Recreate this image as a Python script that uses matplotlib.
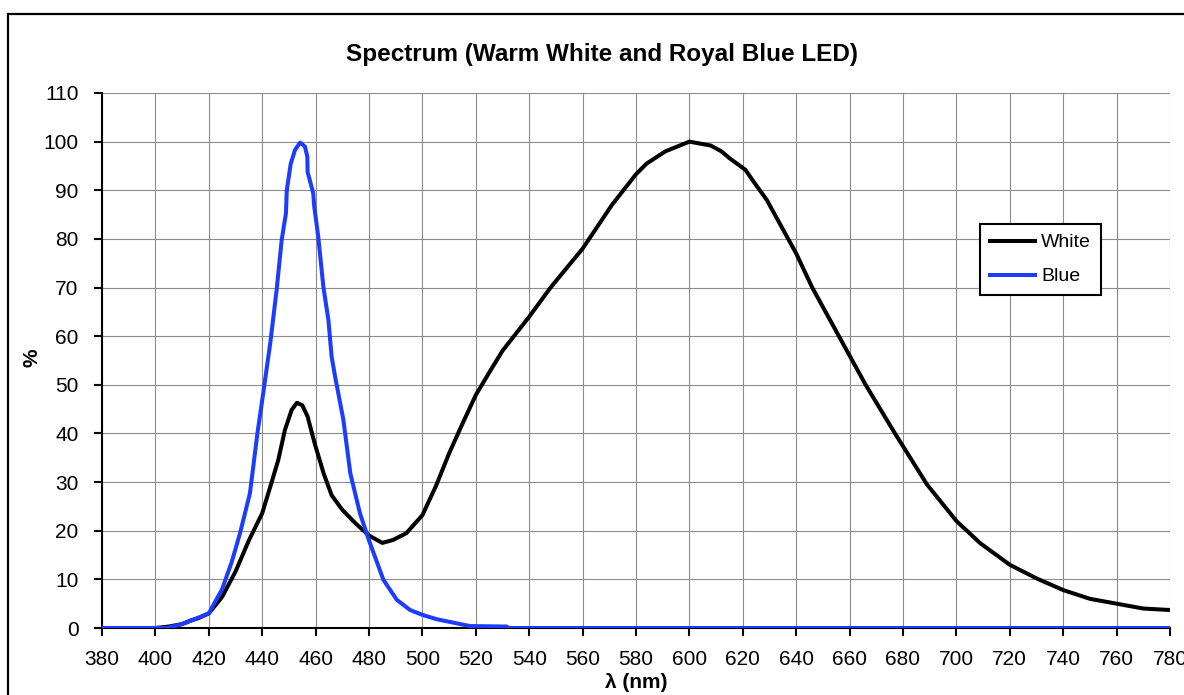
import matplotlib
matplotlib.use("Agg")
import matplotlib.pyplot as plt
from matplotlib.patches import Rectangle

plt.rcParams['font.family'] = ['Liberation Sans', 'DejaVu Sans']

# Warm white LED
wl_white = [380, 400, 405, 410, 413, 416, 420, 425, 430, 435, 440, 443, 446,
            448.5, 451, 453, 455, 457, 459, 460, 463, 466, 470, 475, 480, 485,
            489, 494, 500, 505, 510, 515, 520, 525, 530, 540, 548, 560, 571,
            580, 584, 591, 600, 604, 608, 612, 615, 621, 624, 629, 635, 640, 646, 656,
            666, 677, 689, 700, 709, 720, 730, 740, 750, 760, 770, 780]
white = [0, 0, 0.3, 0.8, 1.5, 2, 3, 6.4, 11.6, 18, 23.6, 29, 34.5,
         40.7, 44.8, 46.3, 45.8, 43.5, 39.3, 37.3, 31.8, 27.3, 24.3, 21.5, 19, 17.5,
         18.1, 19.5, 23.2, 29.1, 35.9, 42, 47.9, 52.5, 57, 64, 70, 78, 87,
         93.3, 95.5, 98, 100, 99.6, 99.2, 98, 96.6, 94.2, 91.8, 88, 82, 77, 70, 60,
         50, 40, 29.5, 22, 17.4, 13, 10.2, 7.8, 6, 5, 4, 3.7]

# Royal blue LED
wl_blue = [380, 404, 408, 412, 415.5, 420, 425, 428.6, 431.7, 435.4, 438.2, 440.2,
           443, 445.4, 447.3, 448.9, 449.2, 450.7, 452.3, 454.2, 456, 456.9, 457,
           459.1, 459.5, 461, 462.9, 464.8, 466, 467.3, 470.4, 473, 476.6, 480,
           485.4, 490.4, 495.4, 500, 505.4, 511.6, 517.8, 531.6, 532, 780]
blue = [0, 0, 0.5, 1.2, 2, 3, 8, 13.6, 19.5, 27.7, 40, 47.6,
        58.5, 69.5, 79.8, 85.3, 90, 95.5, 98.3, 99.8, 99, 96.9, 93.8,
        89.4, 86.6, 80.4, 70.2, 63.3, 55.8, 51.7, 42.8, 31.8, 23.6, 18,
        9.9, 5.8, 3.7, 2.7, 1.8, 1.1, 0.4, 0.3, 0, 0]

x_ticks = list(range(380, 781, 20))
y_ticks = list(range(0, 111, 10))

W, H = 1184, 695
fig = plt.figure(figsize=(W / 100, H / 100), dpi=100)
fig.patches.append(Rectangle((8 / W, -0.1), 2, 1.1 - 14 / H, transform=fig.transFigure,
                             fill=False, edgecolor='black', linewidth=1.6))

ax = fig.add_axes([102 / W, 67 / H, 1068 / W, 535 / H])
ax.plot(wl_white, white, color='black', lw=2.9, label='White', zorder=3)
ax.plot(wl_blue, blue, color='#1E3CFF', lw=2.9, label='Blue', zorder=4)

ax.set_xlim(380, 780)
ax.set_ylim(0, 110)
ax.set_xticks(x_ticks)
ax.set_yticks(y_ticks)
ax.grid(True, color='#8c8c8c', lw=0.8)
ax.set_axisbelow(True)
for s in ['top', 'right']:
    ax.spines[s].set_visible(False)
for s in ['left', 'bottom']:
    ax.spines[s].set_linewidth(1.5)
ax.tick_params(direction='out', length=6, width=1.5, labelsize=15)
ax.tick_params(axis='y', pad=11)
ax.tick_params(axis='x', pad=10)

ax.set_xlabel('λ (nm)', fontsize=15, fontweight='bold', va='center')
ax.xaxis.set_label_coords(0.5, (628 - 683) / 535)
ax.set_ylabel('%', fontsize=15, fontweight='bold', va='center')
ax.yaxis.set_label_coords((32 - 102) / 1068, 0.505)
fig.text(602 / W, 1 - 55 / H, 'Spectrum (Warm White and Royal Blue LED)',
         ha='center', va='center', fontsize=17.5, fontweight='bold')

leg = ax.legend(loc='upper left', bbox_to_anchor=((980 - 102) / 1068, (628 - 224) / 535),
                fontsize=14, frameon=True, fancybox=False, borderaxespad=0,
                handlelength=2.35, labelspacing=0.85, borderpad=0.5, handletextpad=0.3)
leg.get_frame().set_edgecolor('black')
leg.get_frame().set_linewidth(1.5)
leg.get_frame().set_alpha(1)

fig.savefig('out.png', dpi=100)
